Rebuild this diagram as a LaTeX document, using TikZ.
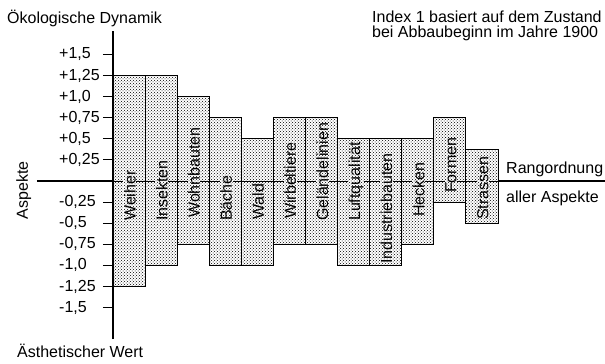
\documentclass[tikz,border=0pt]{standalone}
\usepackage{fontspec}
\setmainfont{Liberation Sans}
\usetikzlibrary{patterns}

\def\vunit{84.4}
\def\bw{32.08}

\begin{document}
\begin{tikzpicture}[
  x=1pt,y=1pt,
  every node/.style={font=\fontsize{16}{14.3}\selectfont},
  bar/.style={draw=black,line width=0.8pt,preaction={fill=white},pattern=crosshatch dots},
  barlabel/.style={rotate=90,anchor=base west,inner xsep=0pt,inner ysep=0.6pt,preaction={fill=white},pattern=crosshatch dots},
  ticklabel/.style={anchor=west,inner sep=0pt},
  plaintext/.style={anchor=base west,inner sep=0pt},
  axisline/.style={line width=1.6pt},
  tickmark/.style={line width=1.2pt}
]
\useasboundingbox (-113,-183) rectangle (492,181);
% bars: name / top / bottom / start of label
\foreach \name/\top/\bot/\lab [count=\i from 0] in {
  Weiher/1.25/-1.25/-40, Insekten/1.25/-1/-40, Wohnbauten/1/-0.75/-37,
  Bäche/0.75/-1/-40, Wald/0.5/-1/-39, Wirbeltiere/0.75/-0.75/-38,
  Geländelinien/0.75/-0.75/-40, Luftqualität/0.5/-1/-40,
  Industriebauten/0.5/-1/-83, Hecken/0.5/-0.75/-36,
  Formen/0.75/-0.25/-12, Strassen/0.375/-0.5/-39}{
  \draw[bar] ({\i*\bw},{\bot*\vunit}) rectangle ({(\i+1)*\bw},{\top*\vunit});
}
\draw[line width=0.8pt] (0,0) -- ({12*\bw},0);
\foreach \name/\top/\bot/\lab [count=\i from 0] in {
  Weiher/1.25/-1.25/-40, Insekten/1.25/-1/-40, Wohnbauten/1/-0.75/-37,
  Bäche/0.75/-1/-40, Wald/0.5/-1/-39, Wirbeltiere/0.75/-0.75/-38,
  Geländelinien/0.75/-0.75/-40, Luftqualität/0.5/-1/-40,
  Industriebauten/0.5/-1/-83, Hecken/0.5/-0.75/-36,
  Formen/0.75/-0.25/-12, Strassen/0.375/-0.5/-39}{
  \node[barlabel] (lab\i) at ({(\i+0.5)*\bw+6.5},\lab) {\name};
}
% axes
\coordinate (xl) at (-76,0);
\coordinate (o) at (0,0);
\coordinate (xe) at ({12*\bw},0);
\coordinate (xr) at (492,0);
\coordinate (yt) at (0,150);
\coordinate (yb) at (0,-158);
\draw[axisline] (xl) -- (o);
\draw[axisline] (xe) -- (xr);
\draw[axisline] (yb) -- (yt);
% ticks
\foreach \v/\t in {1.5/{+1,5},1.25/{+1,25},1/{+1,0},0.75/{+0,75},0.5/{+0,5},0.25/{+0,25},
  -0.25/{-0,25},-0.5/{-0,5},-0.75/{-0,75},-1/{-1,0},-1.25/{-1,25},-1.5/{-1,5}}{
  \draw[tickmark] (-10,{\v*\vunit}) -- (0,{\v*\vunit});
  \node[ticklabel] (t\v) at (-54,{\v*\vunit}) {\t};
}
% texts
\node[plaintext] (dyn) at (-106,157) {Ökologische Dynamik};
\node[plaintext] (wert) at (-96,-176) {Ästhetischer Wert};
\node[rotate=90,anchor=base,inner sep=0pt] (asp) at (-85,-9.5) {Aspekte};
\node[plaintext] (index1) at (259,158) {Index 1 basiert auf dem Zustand};
\node[plaintext] (index2) at (259,143) {bei Abbaubeginn im Jahre 1900};
\node[plaintext] (rang) at (393,8) {Rangordnung};
\node[plaintext] (aller) at (393,-21) {aller Aspekte};
\end{tikzpicture}
\end{document}
